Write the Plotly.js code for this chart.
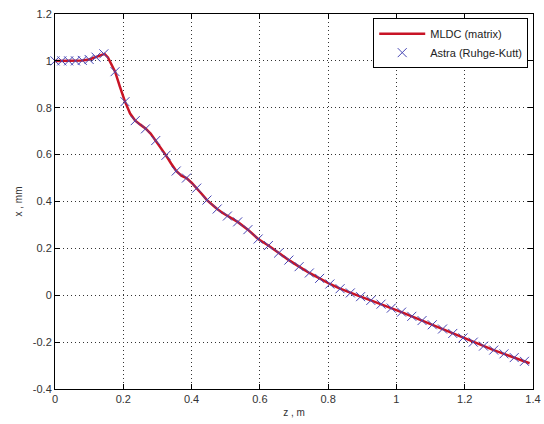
<!DOCTYPE html>
<html>
<head>
<meta charset="utf-8">
<script src="https://cdn.plot.ly/plotly-3.0.1.min.js"></script>
<style>html,body{margin:0;padding:0;background:#fff;}#chart{width:544px;height:424px;}</style>
</head>
<body>
<div id="chart"></div>
<script>
// MLDC (matrix) curve, z in m, x in mm
const mldcZ = [0, 0.02, 0.04, 0.06, 0.08, 0.10, 0.12, 0.135, 0.145, 0.155, 0.165, 0.176, 0.19, 0.205, 0.22, 0.235, 0.25, 0.265, 0.28, 0.295, 0.31, 0.325, 0.34, 0.355, 0.37, 0.385, 0.40, 0.415, 0.43, 0.445, 0.46, 0.475, 0.49, 0.505, 0.535, 0.565, 0.595, 0.625, 0.655, 0.685, 0.715, 0.745, 0.775, 0.805, 0.835, 0.865, 0.895, 0.925, 0.955, 0.985, 1.015, 1.045, 1.075, 1.105, 1.135, 1.165, 1.195, 1.225, 1.255, 1.285, 1.315, 1.345, 1.375, 1.39];
const mldcX = [1.000, 1.000, 1.000, 1.000, 1.002, 1.006, 1.016, 1.025, 1.030, 1.015, 0.985, 0.954, 0.890, 0.826, 0.775, 0.745, 0.728, 0.712, 0.690, 0.660, 0.630, 0.597, 0.562, 0.530, 0.510, 0.500, 0.480, 0.457, 0.432, 0.406, 0.385, 0.368, 0.352, 0.338, 0.313, 0.280, 0.240, 0.212, 0.180, 0.150, 0.122, 0.095, 0.072, 0.048, 0.028, 0.010, -0.006, -0.022, -0.038, -0.055, -0.072, -0.090, -0.108, -0.126, -0.144, -0.163, -0.182, -0.200, -0.217, -0.234, -0.250, -0.266, -0.282, -0.290];

// Astra (Ruhge-Kutt) markers
const astraZ = [0, 0.02, 0.04, 0.06, 0.08, 0.10, 0.12, 0.143, 0.176, 0.205, 0.235, 0.265, 0.295, 0.325, 0.355, 0.385, 0.415, 0.445, 0.475, 0.505, 0.535, 0.565, 0.595, 0.625, 0.655, 0.685, 0.715, 0.745, 0.775, 0.805, 0.835, 0.865, 0.895, 0.925, 0.955, 0.985, 1.015, 1.045, 1.075, 1.105, 1.135, 1.165, 1.195, 1.225, 1.255, 1.285, 1.315, 1.345, 1.375];
const astraX = [1.000, 1.000, 1.000, 1.000, 1.002, 1.006, 1.016, 1.030, 0.954, 0.826, 0.745, 0.710, 0.660, 0.597, 0.530, 0.500, 0.457, 0.406, 0.368, 0.338, 0.313, 0.280, 0.240, 0.212, 0.180, 0.150, 0.122, 0.095, 0.072, 0.048, 0.028, 0.010, -0.006, -0.022, -0.038, -0.055, -0.072, -0.090, -0.108, -0.126, -0.144, -0.163, -0.182, -0.200, -0.217, -0.234, -0.250, -0.266, -0.282];

const xTicks = [0, 0.2, 0.4, 0.6, 0.8, 1, 1.2, 1.4];
const xTickText = ['0', '0.2', '0.4', '0.6', '0.8', '1', '1.2', '1.4'];
const yTicks = [-0.4, -0.2, 0, 0.2, 0.4, 0.6, 0.8, 1, 1.2];
const yTickText = ['-0.4', '-0.2', '0', '0.2', '0.4', '0.6', '0.8', '1', '1.2'];

const FONT = 'Liberation Sans, Arial, sans-serif';

const traces = [
  {
    x: mldcZ, y: mldcX, type: 'scatter', mode: 'lines', name: 'MLDC (matrix)',
    line: {color: '#c81426', width: 2.5}, cliponaxis: false
  },
  {
    x: astraZ, y: astraX, type: 'scatter', mode: 'markers', name: 'Astra (Ruhge-Kutt)',
    marker: {symbol: 'x-thin', size: 9, color: '#4646b4', line: {color: '#4646b4', width: 1}},
    cliponaxis: false
  }
];

const axisCommon = {
  showline: true, linecolor: '#000', linewidth: 1, mirror: 'ticks',
  ticks: 'inside', ticklen: 5, tickcolor: '#000', tickwidth: 1,
  showgrid: true, gridcolor: '#333', gridwidth: 1, griddash: '1px,3px',
  zeroline: false, tickfont: {family: FONT, size: 11, color: '#333'}
};

const layout = {
  width: 544, height: 424,
  margin: {l: 55, r: 11, t: 14, b: 35},
  paper_bgcolor: '#fff', plot_bgcolor: '#fff',
  showlegend: true,
  xaxis: Object.assign({}, axisCommon, {
    range: [0, 1.4], tickvals: xTicks, ticktext: xTickText,
    title: {text: 'z , m', font: {family: FONT, size: 10, color: '#333'}, standoff: 4}
  }),
  yaxis: Object.assign({}, axisCommon, {
    range: [-0.4, 1.2], tickvals: yTicks, ticktext: yTickText,
    title: {text: 'x , mm', font: {family: FONT, size: 10, color: '#333'}, standoff: 8}
  }),
  legend: {
    x: 0.99, y: 0.989, xanchor: 'right', yanchor: 'top',
    bgcolor: '#fff', bordercolor: '#000', borderwidth: 1,
    font: {family: FONT, size: 11, color: '#222'},
    tracegroupgap: 0, itemwidth: 46
  }
};

Plotly.newPlot('chart', traces, layout, {displayModeBar: false, staticPlot: true});
</script>
</body>
</html>
